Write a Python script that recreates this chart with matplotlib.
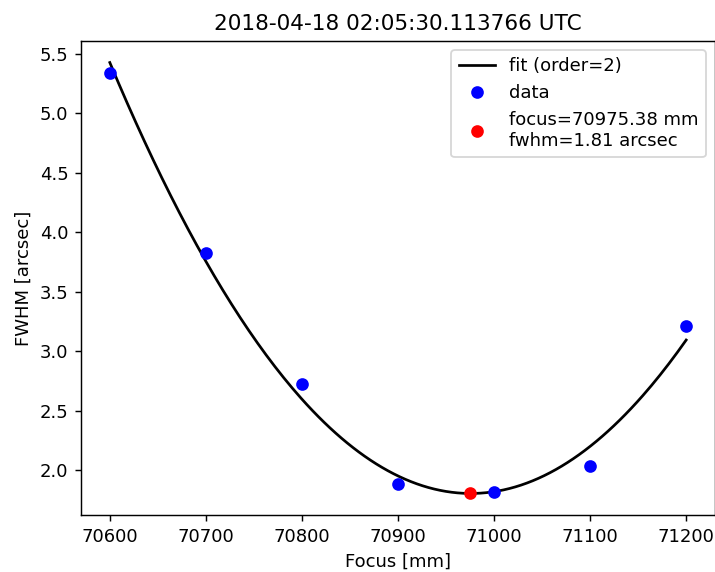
import numpy as np
import matplotlib
matplotlib.use("Agg")
import matplotlib.pyplot as plt

# measured focus positions [mm] and seeing [arcsec]
focus = [70600, 70700, 70800, 70900, 71000, 71100, 71200]
fwhm = [5.34, 3.83, 2.73, 1.89, 1.82, 2.04, 3.21]

best_focus = 70975.38
best_fwhm = 1.81

title = "2018-04-18 02:05:30.113766 UTC"

# second order fit through the data points
coeffs = np.polyfit(focus, fwhm, 2)
xfit = np.linspace(min(focus), max(focus), 200)
yfit = np.polyval(coeffs, xfit)

dpi = 130
fig = plt.figure(figsize=(715 / dpi, 572 / dpi), dpi=dpi)
ax = fig.add_axes([81 / 715, 57 / 572, 634 / 715, 474 / 572])

ax.plot(xfit, yfit, "k-", label="fit (order=2)")
ax.plot(focus, fwhm, "bo", label="data")
ax.plot([best_focus], [best_fwhm], "ro",
        label="focus=%.2f mm\nfwhm=%.2f arcsec" % (best_focus, best_fwhm))

ax.set_xlabel("Focus [mm]")
ax.set_ylabel("FWHM [arcsec]")
ax.set_title(title)
ax.legend(loc="upper right", numpoints=1)

fig.savefig("out.png", dpi=dpi)
